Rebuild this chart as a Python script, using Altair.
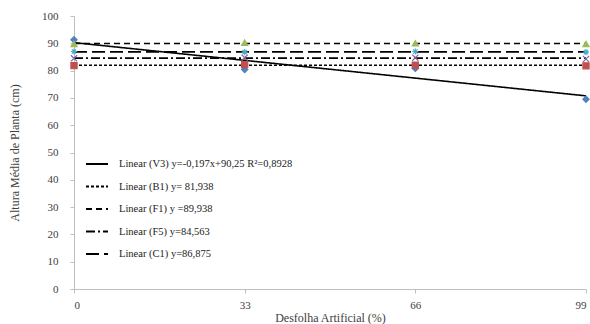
import altair as alt
import pandas as pd

# Defoliation levels (%)
defoliation = [0, 33, 66, 99]

# Mean plant height (cm) per cultivar at each defoliation level
v3_height = [91.3, 80.4, 80.8, 69.5]
b1_height = [81.8, 82.2, 82.0, 81.75]
f1_height = [89.75, 90.25, 90.0, 89.75]
f5_height = [84.5, 84.75, 84.75, 84.25]
c1_height = [87.0, 86.75, 87.0, 86.75]

cultivars = ["V3", "B1", "F1", "F5", "C1"]

# Linear trend coefficients (y = intercept + slope * x)
trend_slope = [-0.197, 0.0, 0.0, 0.0, 0.0]
trend_intercept = [90.25, 81.938, 89.938, 84.563, 86.875]
trend_label = [
    "Linear (V3) y=-0,197x+90,25 R²=0,8928",
    "Linear (B1) y= 81,938",
    "Linear (F1) y =89,938",
    "Linear (F5) y=84,563",
    "Linear (C1) y=86,875",
]
trend_dash = [[1, 0], [3, 2], [6, 4], [9, 3, 2, 3], [13, 5]]

marker_color = ["#4F81BD", "#C0504D", "#9BBB59", "#8064A2", "#4BACC6"]
marker_shape = [
    "diamond",
    "square",
    "triangle-up",
    "M-1,-1L1,1M-1,1L1,-1",
    "M-1,0L1,0M0,-1L0,1M-0.7,-0.7L0.7,0.7M-0.7,0.7L0.7,-0.7",
]

heights = [v3_height, b1_height, f1_height, f5_height, c1_height]
points = pd.DataFrame(
    [
        {"cultivar": c, "x": x, "y": y}
        for c, hs in zip(cultivars, heights)
        for x, y in zip(defoliation, hs)
    ]
)

trend_rows = []
for lab, m, b in zip(trend_label, trend_slope, trend_intercept):
    for x in (defoliation[0], defoliation[-1]):
        trend_rows.append({"trend": lab, "x": x, "y": b + m * x})
trends = pd.DataFrame(trend_rows)

FONT = "Liberation Serif"

x_enc = alt.X(
    "x:Q",
    scale=alt.Scale(domain=[0, 99], nice=False, zero=True),
    axis=alt.Axis(
        values=defoliation,
        title="Desfolha Artificial (%)",
        grid=False,
        tickSize=4,
        labelPadding=6,
        titlePadding=2,
    ),
)
y_enc = alt.Y(
    "y:Q",
    scale=alt.Scale(domain=[0, 100], nice=False),
    axis=alt.Axis(
        values=list(range(0, 101, 10)),
        title="Altura Média de Planta (cm)",
        grid=False,
        tickSize=4,
        labelPadding=12,
        titlePadding=20,
        labelOverlap=False,
    ),
)

lines = (
    alt.Chart(trends)
    .mark_line(color="black", strokeWidth=1.6)
    .encode(
        x=x_enc,
        y=y_enc,
        detail="trend:N",
        strokeDash=alt.StrokeDash(
            "trend:N",
            scale=alt.Scale(domain=trend_label, range=trend_dash),
            sort=trend_label,
            legend=alt.Legend(
                title=None,
                orient="none",
                legendX=11,
                legendY=136,
                symbolType="stroke",
                symbolSize=484,
                symbolStrokeWidth=1.8,
                symbolStrokeColor="black",
                labelFont=FONT,
                labelFontSize=10.5,
                labelColor="#222222",
                labelOffset=10,
                labelLimit=400,
                rowPadding=4.5,
            ),
        ),
    )
)

dots = (
    alt.Chart(points)
    .mark_point(filled=True, size=38, strokeWidth=1.2, opacity=1)
    .encode(
        x=x_enc,
        y=y_enc,
        fill=alt.Fill(
            "cultivar:N",
            scale=alt.Scale(domain=cultivars, range=marker_color),
            legend=None,
        ),
        stroke=alt.Stroke(
            "cultivar:N",
            scale=alt.Scale(domain=cultivars, range=marker_color),
            legend=None,
        ),
        shape=alt.Shape(
            "cultivar:N",
            scale=alt.Scale(domain=cultivars, range=marker_shape),
            legend=None,
        ),
    )
)

chart = (
    alt.layer(lines, dots)
    .resolve_scale(fill="independent", stroke="independent", shape="independent")
    .properties(
        width=512,
        height=273,
        autosize=alt.AutoSizeParams(type="none"),
        padding={"left": 74, "top": 16, "right": 4, "bottom": 35},
        background="white",
    )
    .configure_view(stroke=None)
    .configure_axis(
        domainColor="#BFBFBF",
        tickColor="#BFBFBF",
        labelFont=FONT,
        titleFont=FONT,
        labelFontSize=11,
        titleFontSize=12,
        labelColor="#404040",
        titleColor="#404040",
        titleFontWeight="normal",
    )
)

chart.save("out.html", embed_options={"renderer": "svg", "actions": False})
